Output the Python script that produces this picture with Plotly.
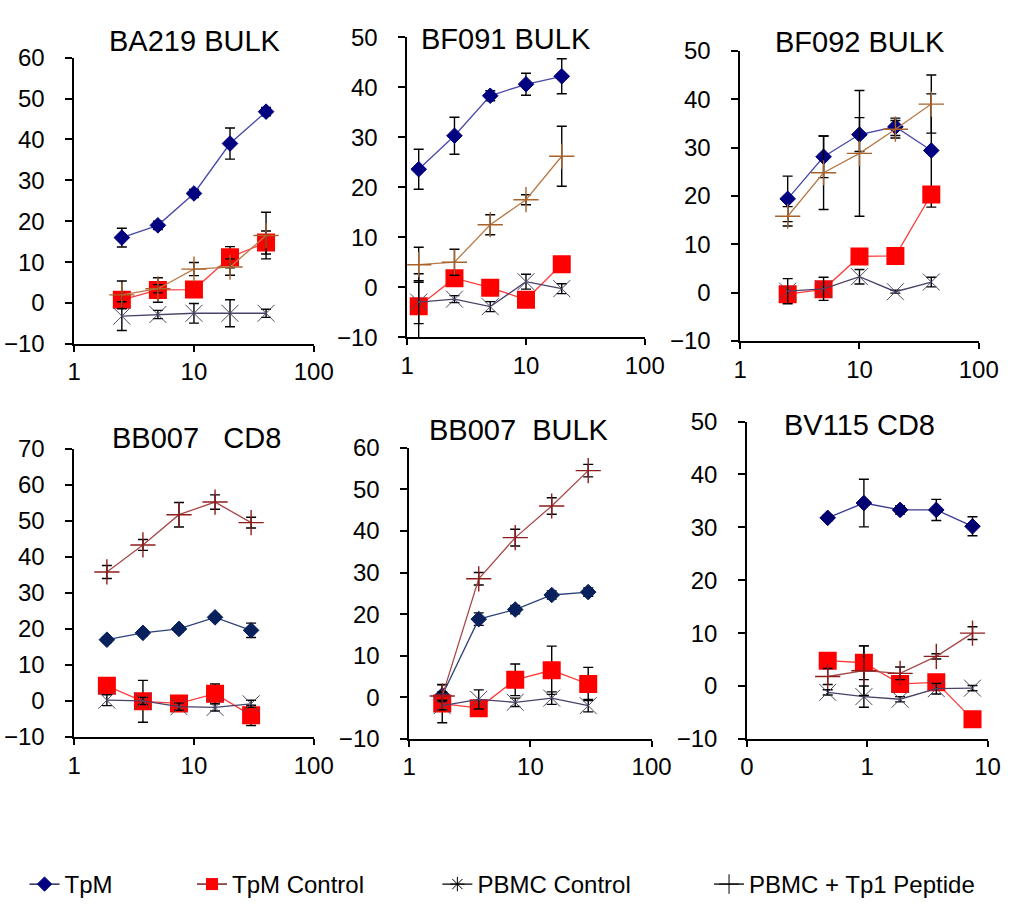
import plotly.graph_objects as go

# ---- data: effector:target ratio (x) vs. % specific lysis (y) ----
ba219_x = [2.5, 5, 10, 20, 40]
ba219_tpm = [16, 19, 26.8, 39, 46.8]
ba219_tpm_err = [2.3, 1, 1, 3.8, 1]
ba219_tpmc = [0.8, 3.2, 3.3, 11.2, 14.8]
ba219_tpmc_err = [1, 3, 1, 2.6, 2.8]
ba219_pbmc = [-3.2, -2.8, -2.5, -2.5, -2.5]
ba219_pbmc_err = [3.5, 1, 2.4, 3.3, 1]
ba219_tp1 = [2, 3.5, 8.3, 8.8, 16.5]
ba219_tp1_err = [3.4, 1, 1.6, 2, 5.7]

bf091_x = [1.25, 2.5, 5, 10, 20]
bf091_tpm = [23.6, 30.3, 38.3, 40.6, 42.2]
bf091_tpm_err = [4, 3.7, 1, 2.2, 3.5]
bf091_tpmc = [-3.8, 1.8, -0.1, -2.5, 4.6]
bf091_tpmc_err = [6.5, 1, 1, 1, 1]
bf091_pbmc = [-3, -2.4, -3.9, 1.1, -0.3]
bf091_pbmc_err = [4.3, 0.7, 1, 1.5, 1]
bf091_tp1 = [4.5, 5, 12.5, 17.5, 26.2]
bf091_tp1_err = [3.5, 2.6, 2, 1, 6]

bf092_x = [2.5, 5, 10, 20, 40]
bf092_tpm = [19.4, 28.1, 32.7, 34.3, 29.4]
bf092_tpm_err = [4.7, 4.3, 3.5, 1.8, 11.7]
bf092_tpmc = [-0.3, 0.7, 7.5, 7.6, 20.3]
bf092_tpmc_err = [0.5, 0.5, 0.5, 0.5, 0.5]
bf092_pbmc = [0.3, 0.8, 3.3, 0.2, 2.2]
bf092_pbmc_err = [2.6, 2.4, 1.5, 0.3, 1]
bf092_tp1 = [15.8, 24.8, 28.8, 33.8, 39]
bf092_tp1_err = [2, 7.6, 13, 1.8, 6]

bb007cd8_x = [1.875, 3.75, 7.5, 15, 30]
bb007cd8_tpm = [17, 18.9, 20, 23.2, 19.6]
bb007cd8_tpm_err = [0.8, 0.8, 0.8, 0.8, 2]
bb007cd8_tpmc = [4.2, -0.1, -0.7, 2, -4]
bb007cd8_tpmc_err = [1, 5.8, 1, 2.7, 2.8]
bb007cd8_pbmc = [0.2, 0, -1.6, -1.8, -0.8]
bb007cd8_pbmc_err = [1.5, 1, 1, 1, 1]
bb007cd8_tp1 = [35.8, 43.3, 51.7, 55.2, 49.5]
bb007cd8_tp1_err = [1.8, 1.5, 3.4, 2, 1.5]

bb007bulk_x = [1.875, 3.75, 7.5, 15, 30]
bb007bulk_tpm = [0.5, 18.8, 21.1, 24.6, 25.3]
bb007bulk_tpm_err = [2.5, 1.5, 1, 1, 1]
bb007bulk_tpmc = [-1.5, -2.6, 4.2, 6.5, 3.2]
bb007bulk_tpmc_err = [4.6, 1, 3.8, 5.8, 4]
bb007bulk_pbmc = [-2, -0.5, -1.2, -0.2, -2]
bb007bulk_pbmc_err = [1, 2.3, 1, 1.5, 1.5]
bb007bulk_tp1 = [0.3, 28.5, 38.4, 46, 54.5]
bb007bulk_tp1_err = [1, 1.5, 2, 2, 1.5]

bv115_x = [0.46875, 0.9375, 1.875, 3.75, 7.5]
bv115_tpm = [31.8, 34.6, 33.3, 33.3, 30.2]
bv115_tpm_err = [0.5, 4.5, 0.8, 2, 1.8]
bv115_tpmc = [4.8, 4.4, 0.4, 0.7, -6.3]
bv115_tpmc_err = [0.5, 3.2, 1, 1, 0.5]
bv115_pbmc = [-1.2, -2, -2.5, -0.5, -0.4]
bv115_pbmc_err = [0.5, 2, 0.5, 1, 0.5]
bv115_tp1 = [1.8, 2.9, 2.4, 5.6, 10]
bv115_tp1_err = [1.5, 4.7, 1.2, 0.5, 1.2]

titles = ["BA219 BULK", "BF091 BULK", "BF092 BULK",
          "BB007   CD8", "BB007  BULK", "BV115 CD8"]
series_names = ["TpM", "TpM Control", "PBMC Control", "PBMC + Tp1 Peptide"]
y_ranges = [[-10, 60], [-10, 50], [-10, 50], [-10, 70], [-10, 60], [-10, 50]]
x_tickvals = [[1, 10, 100]] * 5 + [[0.1, 1, 10]]
x_ticktext = [["1", "10", "100"]] * 5 + [["0", "1", "10"]]

panels = [
    (ba219_x, ba219_tpm, ba219_tpm_err, ba219_tpmc, ba219_tpmc_err,
     ba219_pbmc, ba219_pbmc_err, ba219_tp1, ba219_tp1_err),
    (bf091_x, bf091_tpm, bf091_tpm_err, bf091_tpmc, bf091_tpmc_err,
     bf091_pbmc, bf091_pbmc_err, bf091_tp1, bf091_tp1_err),
    (bf092_x, bf092_tpm, bf092_tpm_err, bf092_tpmc, bf092_tpmc_err,
     bf092_pbmc, bf092_pbmc_err, bf092_tp1, bf092_tp1_err),
    (bb007cd8_x, bb007cd8_tpm, bb007cd8_tpm_err, bb007cd8_tpmc, bb007cd8_tpmc_err,
     bb007cd8_pbmc, bb007cd8_pbmc_err, bb007cd8_tp1, bb007cd8_tp1_err),
    (bb007bulk_x, bb007bulk_tpm, bb007bulk_tpm_err, bb007bulk_tpmc, bb007bulk_tpmc_err,
     bb007bulk_pbmc, bb007bulk_pbmc_err, bb007bulk_tp1, bb007bulk_tp1_err),
    (bv115_x, bv115_tpm, bv115_tpm_err, bv115_tpmc, bv115_tpmc_err,
     bv115_pbmc, bv115_pbmc_err, bv115_tp1, bv115_tp1_err),
]

# ---- page geometry (pixels) ----
W, H = 1027, 913
# plot-area boxes: left, right, top, bottom
boxes = [
    (69, 315, 45, 340),
    (411, 655, 24, 333),
    (753, 998, 38, 337),
    (69, 315, 448, 745),
    (413, 662, 447, 747),
    (760, 1007, 420, 747),
]
title_pos = [(193, 28), (512, 26), (876, 29), (195, 437), (526, 429), (876, 424)]

FONT = "Liberation Sans, Arial, sans-serif"

# per-row colours
tpm_marker = ["#000080", "#000080", "#000080", "#08215c", "#08215c", "#000070"]
tpm_line = ["#4848a8", "#4848a8", "#4848a8", "#2c4278", "#2c4278", "#3a3a98"]
tp1_color = ["#a8622a", "#a8622a", "#a8622a", "#8e1c1c", "#8e1c1c", "#8e1c1c"]
tp1_line = ["#b87a48", "#b87a48", "#b87a48", "#a84848", "#a84848", "#a84848"]


def err(vals):
    return dict(type="data", array=vals, visible=True, color="black",
                thickness=1.4, width=5)


fig = go.Figure()
layout = {}

for i, (px, tpm, tpm_e, tpmc, tpmc_e, pbmc, pbmc_e, tp1, tp1_e) in enumerate(panels):
    n = "" if i == 0 else str(i + 1)
    xa, ya = "x" + n, "y" + n
    l, r, t, b = boxes[i]

    fig.add_trace(go.Scatter(
        x=px, y=tpm, error_y=err(tpm_e), xaxis=xa, yaxis=ya, mode="lines+markers",
        line=dict(color=tpm_line[i], width=1.3), showlegend=False,
        marker=dict(symbol="diamond", size=12, color=tpm_marker[i],
                    line=dict(color=tpm_marker[i], width=1))))
    fig.add_trace(go.Scatter(
        x=px, y=tpmc, error_y=err(tpmc_e), xaxis=xa, yaxis=ya, mode="lines+markers",
        line=dict(color="#ff3b3b", width=1.3), showlegend=False,
        marker=dict(symbol="square", size=18, color="#ff0000",
                    line=dict(color="#ff0000", width=0))))
    fig.add_trace(go.Scatter(
        x=px, y=pbmc, error_y=err(pbmc_e), xaxis=xa, yaxis=ya, mode="lines+markers",
        line=dict(color="#4a4068", width=1.3), showlegend=False,
        marker=dict(symbol="x-thin-open", size=17, color="#4a4a66",
                    line=dict(color="#4a4a66", width=1))))
    fig.add_trace(go.Scatter(
        x=px, y=tp1, error_y=err(tp1_e), xaxis=xa, yaxis=ya, mode="lines+markers",
        line=dict(color=tp1_line[i], width=1.3), showlegend=False,
        marker=dict(symbol="cross-thin-open", size=18, color=tp1_color[i],
                    line=dict(color=tp1_color[i], width=1.4))))

    lo, hi = (0, 2) if i < 5 else (-1, 1)
    layout["xaxis" + n] = dict(
        type="log", range=[lo, hi], domain=[l / W, r / W], anchor=ya,
        tickvals=x_tickvals[i], ticktext=x_ticktext[i],
        showline=True, linecolor="black", linewidth=1.5,
        ticks="outside", ticklen=6, tickwidth=1.5, tickcolor="black",
        showgrid=False, zeroline=False,
        tickfont=dict(family=FONT, size=24, color="black"))
    layout["yaxis" + n] = dict(
        range=y_ranges[i], dtick=10, domain=[1 - b / H, 1 - t / H], anchor=xa,
        showline=True, linecolor="black", linewidth=1.5,
        ticks="outside", ticklen=7, tickwidth=1.5, tickcolor="black",
        showgrid=False, zeroline=False, ticklabelstandoff=16,
        tickfont=dict(family=FONT, size=24, color="black"))

# legend entries (one legend box per series so each sits at its own spot)
legend_styles = [
    dict(symbol="diamond", size=11, color="#000080", line=dict(color="#000080", width=1)),
    dict(symbol="square", size=12, color="#ff0000", line=dict(color="#ff0000", width=0)),
    dict(symbol="asterisk-open", size=12, color="black", line=dict(color="black", width=1)),
    dict(symbol="cross-thin-open", size=14, color="black", line=dict(color="black", width=1)),
]
legend_lines = ["#000040", "#600000", "black", "black"]
legend_x = [18, 190, 442, 721]
for k, name in enumerate(series_names):
    lg = "legend" if k == 0 else "legend" + str(k + 1)
    fig.add_trace(go.Scatter(
        x=[None], y=[None], name=name, mode="lines+markers", legend=lg,
        line=dict(color=legend_lines[k], width=1.3), marker=legend_styles[k]))
    layout[lg] = dict(x=legend_x[k] / W, y=1 - 897 / H, xanchor="left", yanchor="middle",
                      bgcolor="rgba(0,0,0,0)", borderwidth=0,
                      font=dict(family=FONT, size=24, color="black"))

annotations = []
for i, txt in enumerate(titles):
    cx, cy = title_pos[i]
    annotations.append(dict(
        text=txt.replace(" ", "\u00a0"), x=cx / W, y=1 - cy / H, xref="paper", yref="paper",
        xanchor="center", yanchor="middle", showarrow=False,
        font=dict(family=FONT, size=29, color="black")))

fig.update_layout(
    width=W, height=H, margin=dict(l=0, r=0, t=0, b=0),
    paper_bgcolor="white", plot_bgcolor="white",
    annotations=annotations, **layout)

fig.write_html("out.html")
